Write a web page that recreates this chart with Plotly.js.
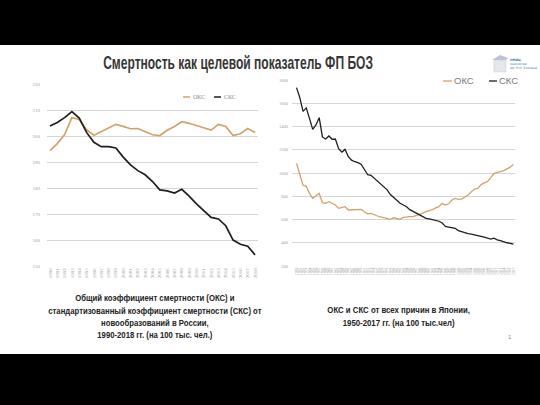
<!DOCTYPE html>
<html>
<head>
<meta charset="utf-8">
<script src="https://cdn.plot.ly/plotly-3.0.1.min.js"></script>
<style>html,body{margin:0;padding:0;background:#fff;}#chart{width:540px;height:405px;}</style>
</head>
<body>
<div id="chart"></div>
<script>
// ---- Russia, cancer mortality 1990-2018 (per 100k) ----
const ruYears = [1990,1991,1992,1993,1994,1995,1996,1997,1998,1999,2000,2001,2002,2003,2004,2005,2006,2007,2008,2009,2010,2011,2012,2013,2014,2015,2016,2017,2018];
const ruOKS = [194.5,197.2,200.6,207.2,206.5,202.5,200.4,201.8,203.5,204.6,203.8,202.9,203.0,201.8,200.6,200.3,202.3,203.8,205.6,205.0,204.0,203.3,202.4,204.6,203.8,200.3,201.0,203.0,201.5];
const ruSKS = [204.0,205.3,207.2,209.5,207.0,201.5,197.7,196.0,196.0,195.5,192.0,189.0,186.8,185.2,182.6,179.4,179.0,178.2,179.6,177.0,174.0,171.3,168.8,168.2,165.6,160.1,158.5,157.7,154.4];
const ruYTicks = [150,160,170,180,190,200,210,220];

// ---- Japan, all-cause mortality 1950-2017 (per 100k) ----
const jpYears = [1950,1951,1952,1953,1954,1955,1956,1957,1958,1959,1960,1961,1962,1963,1964,1965,1966,1967,1968,1969,1970,1971,1972,1973,1974,1975,1976,1977,1978,1979,1980,1981,1982,1983,1984,1985,1986,1987,1988,1989,1990,1991,1992,1993,1994,1995,1996,1997,1998,1999,2000,2001,2002,2003,2004,2005,2006,2007,2008,2009,2010,2011,2012,2013,2014,2015,2016,2017];
const jpOKS = [1083,990,895,885,825,782,802,825,745,739,753,739,725,696,700,710,682,682,682,685,687,665,648,653,640,630,622,614,608,601,615,610,601,618,624,624,624,633,647,655,668,675,685,700,710,739,725,735,768,782,773,775,795,810,839,862,868,900,915,925,960,995,1005,1011,1020,1035,1050,1074];
const jpSKS = [1734,1650,1530,1560,1470,1375,1413,1476,1310,1292,1318,1290,1292,1210,1180,1203,1140,1110,1097,1089,1074,1026,985,980,955,935,905,880,855,815,790,770,740,725,710,685,670,650,640,620,610,605,600,595,585,570,540,535,528,524,505,495,485,478,475,470,465,455,448,440,432,440,425,418,408,400,395,388];
const jpYTicks = [200,400,600,800,1000,1200,1400,1600,1800];

const seriesNames = ['ОКС','СКС'];
const titleText = 'Смертность как целевой показатель ФП БОЗ';
const captionLeft = 'Общий коэффициент смертности (ОКС) и<br>стандартизованный коэффициент смертности (СКС) от<br>новообразований в России,<br>1990-2018 гг. (на 100 тыс. чел.)';
const captionRight = 'ОКС и СКС от всех причин в Японии,<br>1950-2017 гг. (на 100 тыс.чел)';

const ORANGE = '#d2a26a';
const BLACK = '#1e1e1e';
const BOLDFONT = '"Liberation Sans", Arial, sans-serif';
const W = 540, H = 405;
const px = x => x / W;
const py = y => (H - y) / H;

const traces = [
  {x: ruYears, y: ruOKS, name: seriesNames[0], xaxis: 'x', yaxis: 'y', mode: 'lines', line: {color: ORANGE, width: 1.7}, showlegend: false},
  {x: ruYears, y: ruSKS, name: seriesNames[1], xaxis: 'x', yaxis: 'y', mode: 'lines', line: {color: BLACK, width: 1.7}, showlegend: false},
  {x: jpYears, y: jpOKS, name: seriesNames[0], xaxis: 'x2', yaxis: 'y2', mode: 'lines', line: {color: ORANGE, width: 1.3}, showlegend: false},
  {x: jpYears, y: jpSKS, name: seriesNames[1], xaxis: 'x2', yaxis: 'y2', mode: 'lines', line: {color: BLACK, width: 1.3}, showlegend: false}
];

const tickFont = {family: 'Liberation Serif, serif', size: 5, color: '#a0a0a0'};

const layout = {
  width: W, height: H,
  margin: {l: 0, r: 0, t: 0, b: 0},
  paper_bgcolor: '#ffffff', plot_bgcolor: 'rgba(0,0,0,0)',
  showlegend: false,
  xaxis: {
    domain: [px(47), px(258)], range: [1989.6, 2018.4],
    tickmode: 'array', tickvals: ruYears, ticktext: ruYears.map(String),
    tickangle: -90, tickfont: tickFont, showgrid: false, zeroline: false,
    showline: false, ticks: '', anchor: 'y', fixedrange: true
  },
  yaxis: {
    domain: [py(266.3), py(84.3)], range: [150, 220],
    tickmode: 'array', tickvals: ruYTicks, tickfont: tickFont,
    showgrid: true, gridcolor: '#d6d6d6', gridwidth: 1, zeroline: false,
    showline: false, ticks: '', anchor: 'x', ticklabelstandoff: 6
  },
  xaxis2: {
    domain: [px(292), px(515)], range: [1948.6, 2017.5],
    tickmode: 'array', tickvals: jpYears, ticktext: jpYears.map(String),
    tickangle: -90, tickfont: {family: 'Liberation Serif, serif', size: 3.6, color: '#a0a0a0'},
    showgrid: false, zeroline: false, showline: false, ticks: '', anchor: 'y2'
  },
  yaxis2: {
    domain: [py(266), py(80)], range: [200, 1800],
    tickmode: 'array', tickvals: jpYTicks, tickfont: {family: 'Liberation Serif, serif', size: 4.5, color: '#a0a0a0'},
    showgrid: true, gridcolor: '#d6d6d6', gridwidth: 1, zeroline: false,
    showline: false, ticks: '', anchor: 'x2', ticklabelstandoff: 3
  },
  shapes: [
    {type: 'rect', xref: 'paper', yref: 'paper', x0: 0, x1: 1, y0: py(45), y1: 1, fillcolor: '#000', line: {width: 0}, layer: 'above'},
    {type: 'rect', xref: 'paper', yref: 'paper', x0: 0, x1: 1, y0: 0, y1: py(354), fillcolor: '#000', line: {width: 0}, layer: 'above'},
    // legend samples, left chart
    {type: 'line', xref: 'paper', yref: 'paper', x0: px(183), x1: px(190), y0: py(97), y1: py(97), line: {color: ORANGE, width: 1.5}},
    {type: 'line', xref: 'paper', yref: 'paper', x0: px(214), x1: px(221), y0: py(97), y1: py(97), line: {color: BLACK, width: 1.5}},
    // legend samples, right chart
    {type: 'line', xref: 'paper', yref: 'paper', x0: px(443), x1: px(452), y0: py(81), y1: py(81), line: {color: ORANGE, width: 1.3}},
    {type: 'line', xref: 'paper', yref: 'paper', x0: px(489), x1: px(497), y0: py(81), y1: py(81), line: {color: BLACK, width: 1.3}},
    // logo
    {type: 'rect', xref: 'paper', yref: 'paper', x0: px(494), x1: px(506), y0: py(72), y1: py(60), fillcolor: '#e4e7ec', line: {color: '#c9ced6', width: 0.5}},
    {type: 'path', xref: 'paper', yref: 'paper', path: `M ${px(492)} ${py(60)} L ${px(500)} ${py(55)} L ${px(508)} ${py(58)} L ${px(506)} ${py(60)} Z`, fillcolor: '#b8c4d6', line: {width: 0}}
  ],
  annotations: [
    {text: '<b>' + titleText + '</b>', xref: 'paper', yref: 'paper', x: px(238), y: py(63), xanchor: 'center', yanchor: 'middle', showarrow: false,
     font: {family: BOLDFONT, size: 17.5, color: '#363636'}},
    {text: '<b>' + captionLeft + '</b>', xref: 'paper', yref: 'paper', x: px(155), y: py(316.5), xanchor: 'center', yanchor: 'middle', showarrow: false,
     align: 'center', font: {family: BOLDFONT, size: 11, color: '#222'}},
    {text: '<b>' + captionRight + '</b>', xref: 'paper', yref: 'paper', x: px(398), y: py(316), xanchor: 'center', yanchor: 'middle', showarrow: false,
     align: 'center', font: {family: BOLDFONT, size: 11, color: '#222'}},
    {text: seriesNames[0], xref: 'paper', yref: 'paper', x: px(191), y: py(97), xanchor: 'left', yanchor: 'middle', showarrow: false,
     font: {family: 'Liberation Serif, serif', size: 6, color: '#8a8a8a'}},
    {text: seriesNames[1], xref: 'paper', yref: 'paper', x: px(222), y: py(97), xanchor: 'left', yanchor: 'middle', showarrow: false,
     font: {family: 'Liberation Serif, serif', size: 6, color: '#8a8a8a'}},
    {text: seriesNames[0], xref: 'paper', yref: 'paper', x: px(452), y: py(81), xanchor: 'left', yanchor: 'middle', showarrow: false,
     font: {family: BOLDFONT, size: 9.5, color: '#7a7a7a'}},
    {text: seriesNames[1], xref: 'paper', yref: 'paper', x: px(497), y: py(81), xanchor: 'left', yanchor: 'middle', showarrow: false,
     font: {family: BOLDFONT, size: 9.5, color: '#7a7a7a'}},
    {text: '<b>НМИЦ</b><br>онкологии<br>им. Н.Н. Блохина', xref: 'paper', yref: 'paper', x: px(508), y: py(64), xanchor: 'left', yanchor: 'middle', showarrow: false,
     align: 'left', font: {family: 'DejaVu Sans, sans-serif', size: 3, color: '#3b6fb0'}},
    {text: '1', xref: 'paper', yref: 'paper', x: px(510), y: py(337), xanchor: 'center', yanchor: 'middle', showarrow: false,
     font: {family: 'Liberation Sans, sans-serif', size: 6, color: '#8a8a8a'}}
  ]
};

// condensed look: squeeze some annotation texts to a target width (and tighten line spacing)
const squeezeTargets = [[0, 270, 1], [1, 214, 0.86], [2, 143, 0.86]];
function squeeze() {
  squeezeTargets.forEach(([idx, targetW, sy]) => {
    const g = document.querySelector(`g.annotation[data-index="${idx}"]`);
    if (!g) return;
    const t = g.querySelector('text.annotation-text');
    if (!t) return;
    const bb = t.getBBox();
    if (!bb.width) return;
    const s = targetW / bb.width;
    const cx = bb.x + bb.width / 2;
    const cy = bb.y + bb.height / 2;
    const prev = t.getAttribute('transform') || '';
    t.setAttribute('transform', `translate(${cx},${cy}) scale(${s},${sy}) translate(${-cx},${-cy}) ${prev}`);
  });
}

Plotly.newPlot('chart', traces, layout, {staticPlot: true, displayModeBar: false}).then(squeeze);
</script>
</body>
</html>
